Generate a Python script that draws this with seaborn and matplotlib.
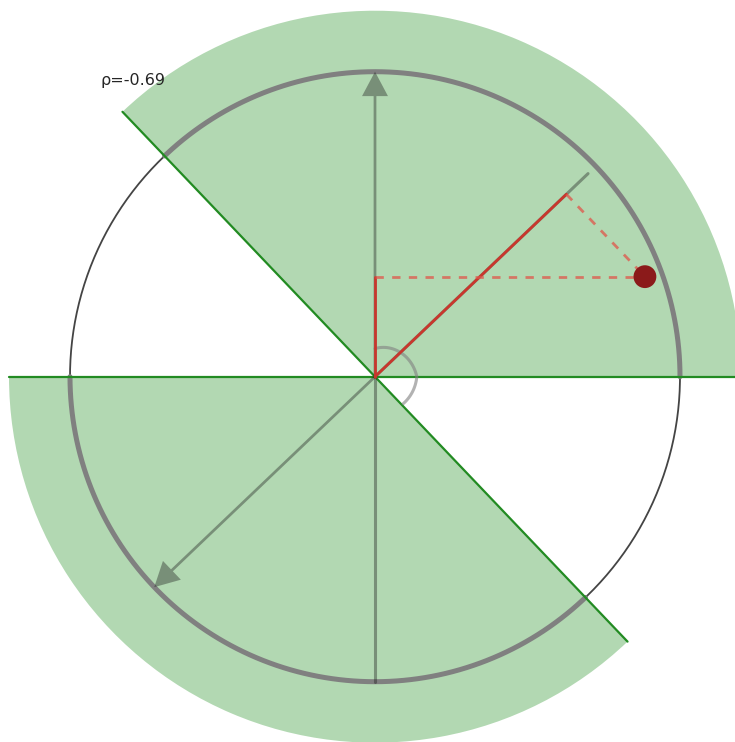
import numpy as np
import seaborn as sns
import pandas as pd
import matplotlib.pyplot as plt
from matplotlib.patches import Wedge, FancyArrow

# values
rho = -0.69
point = [0.885, 0.328]
axis_len = 0.965
wedge_r = 1.2
arc_r = [0.092, 0.137, 0.128]
label = "ρ=-0.69"

theta = np.degrees(np.arccos(rho))      # 133.6
perp = theta - 90                        # 43.6

sns.set_theme(style="white")
fig = plt.figure(figsize=(7.35, 7.42), dpi=100)
ax = fig.add_axes([0, 0, 1, 1])
ax.set_xlim(-375 / 305, 360 / 305)
ax.set_ylim(-(742 - 376.7) / 305, 376.7 / 305)
ax.set_aspect("equal")
ax.axis("off")

# shaded half planes
for start in [0, 180]:
    ax.add_patch(Wedge((0, 0), wedge_r, start, start + theta,
                       facecolor="green", alpha=0.3, lw=0))

# unit circle and thick arcs
t = np.linspace(0, 2 * np.pi, 400)
circ = pd.DataFrame({"x": np.cos(t), "y": np.sin(t)})
ax.plot(circ.x, circ.y, color="#444444", lw=1.3, zorder=2)
for start in [0, 180]:
    a = np.radians(np.linspace(start, start + theta, 200))
    ax.plot(np.cos(a), np.sin(a), color="gray", lw=3.6, zorder=3)

# boundary lines
ax.plot([-wedge_r, wedge_r], [0, 0], color="forestgreen", lw=1.6, zorder=4)
c, s = np.cos(np.radians(theta)), np.sin(np.radians(theta))
ax.plot([-wedge_r * c, wedge_r * c], [-wedge_r * s, wedge_r * s],
        color="forestgreen", lw=1.6, zorder=4)

# axes vectors
arrow_kw = dict(width=0.009, head_width=0.085, head_length=0.08,
                length_includes_head=True, color="k", alpha=0.38, lw=0, zorder=4)
ax.add_patch(FancyArrow(0, 0, 0, 1, **arrow_kw))
ax.plot([0, 0], [0, -1], color="k", alpha=0.38, lw=2.2, zorder=4)
pc, ps = np.cos(np.radians(perp)), np.sin(np.radians(perp))
ax.add_patch(FancyArrow(0, 0, -pc, -ps, **arrow_kw))
ax.plot([0, axis_len * pc], [0, axis_len * ps], color="k", alpha=0.38, lw=2.2, zorder=4)

# angle marker
a = np.radians(np.linspace(90, 90 - theta, 100))
r = np.interp(np.linspace(0, 1, 100), [0, 90 / theta, 1], arc_r)
ax.plot(r * np.cos(a), r * np.sin(a), color="gray", alpha=0.6, lw=2.2, zorder=4)

# projections of the point
proj = point[0] * pc + point[1] * ps
ax.plot([0, proj * pc], [0, proj * ps], color="#c8372d", lw=2, zorder=5)
ax.plot([0, 0], [0, point[1]], color="#c8372d", lw=2, zorder=5)
ax.plot([0, point[0]], [point[1], point[1]], color="#e0564a", alpha=0.75, lw=2,
        ls=(0, (3, 3)), zorder=5)
ax.plot([proj * pc, point[0]], [proj * ps, point[1]], color="#e0564a", alpha=0.75, lw=2,
        ls=(0, (3, 3)), zorder=5)
sns.scatterplot(x=[point[0]], y=[point[1]], color="#8b1a1a", s=270, ax=ax,
                zorder=6, edgecolor="none")

ax.text(-0.9, 0.972, label, fontsize=11.5, ha="left", va="center")

plt.savefig("out.png", dpi=100)
